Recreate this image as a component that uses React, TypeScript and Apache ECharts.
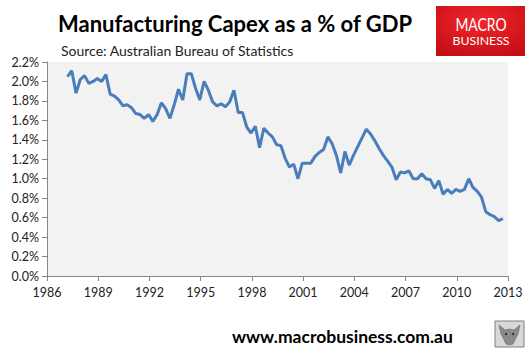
import React, { useEffect, useRef } from "react";
import * as echarts from "echarts";

// Quarterly series start (decimal year) and step
const firstQuarter = 1987.2;
const quarterStep = 0.25;

// Manufacturing capex as % of GDP, quarterly
const capexPct: number[] = [
  2.05, 2.11, 1.88, 2.02, 2.06, 1.98, 2.0, 2.03, 2.0, 2.07,
  1.87, 1.85, 1.81, 1.75, 1.76, 1.73, 1.67, 1.66, 1.62, 1.66,
  1.59, 1.66, 1.78, 1.72, 1.62, 1.76, 1.92, 1.81, 2.08, 2.08,
  1.93, 1.81, 2.0, 1.91, 1.79, 1.75, 1.77, 1.74, 1.79, 1.91,
  1.68, 1.68, 1.53, 1.47, 1.54, 1.32, 1.52, 1.47, 1.43, 1.35,
  1.34, 1.21, 1.12, 1.15, 1.0, 1.16, 1.16, 1.16, 1.23, 1.27,
  1.3, 1.43, 1.36, 1.24, 1.06, 1.28, 1.14, 1.24, 1.33, 1.42,
  1.51, 1.46, 1.39, 1.31, 1.24, 1.18, 1.12, 0.99, 1.07, 1.06,
  1.08, 1.0, 1.0, 1.05, 1.0, 0.99, 0.9, 0.98, 0.84, 0.89,
  0.85, 0.89, 0.87, 0.89, 1.0, 0.91, 0.87, 0.81, 0.66, 0.63,
  0.61, 0.57, 0.59,
];

const xTicks = { min: 1986, max: 2013, interval: 3 };
const yTicks = { min: 0, max: 2.2, interval: 0.2 };

const titleText = "Manufacturing Capex as a % of GDP";
const subtitleText = "Source: Australian Bureau of Statistics";
const footerText = "www.macrobusiness.com.au";

export default function App() {
  const ref = useRef<HTMLDivElement>(null);
  useEffect(() => {
    if (!ref.current) return;
    const chart = echarts.init(ref.current, null, { renderer: "svg" });
    const data = capexPct.map((v, i) => [firstQuarter + i * quarterStep, v]);
    const labelFont = "Lato";
    chart.setOption({
      animation: false,
      backgroundColor: "#ffffff",
      grid: {
        left: 47,
        right: 22,
        top: 62,
        bottom: 79,
        show: true,
        backgroundColor: "#f2f2f2",
        borderWidth: 0,
      },
      xAxis: {
        type: "value",
        min: xTicks.min,
        max: xTicks.max,
        interval: xTicks.interval,
        axisLine: { show: true, lineStyle: { color: "#868686", width: 1 } },
        axisTick: { show: true, length: 5, lineStyle: { color: "#868686" } },
        splitLine: { show: false },
        axisLabel: {
          margin: 10,
          color: "#222",
          fontFamily: labelFont,
          fontSize: 12.5,
          formatter: (v: number) => String(v),
        },
      },
      yAxis: {
        type: "value",
        min: yTicks.min,
        max: yTicks.max,
        interval: yTicks.interval,
        axisLine: { show: true, lineStyle: { color: "#868686", width: 1 } },
        axisTick: { show: true, length: 5, lineStyle: { color: "#868686" } },
        splitLine: { show: false },
        axisLabel: {
          margin: 8,
          color: "#222",
          fontFamily: labelFont,
          fontSize: 12.5,
          formatter: (v: number) => v.toFixed(1) + "%",
        },
      },
      series: [
        {
          type: "line",
          data,
          showSymbol: false,
          symbol: "none",
          lineStyle: { color: "#4a7ebb", width: 3 },
        },
      ],
      graphic: [
        {
          type: "text",
          left: 58,
          top: 12,
          style: {
            text: titleText,
            font: "bold 22px Lato",
            fill: "#000",
          },
        },
        {
          type: "text",
          left: 61,
          top: 43,
          style: {
            text: subtitleText,
            font: "14px Lato",
            fill: "#222",
          },
        },
        {
          type: "rect",
          shape: { x: 436, y: 6, width: 89, height: 50 },
          style: {
            fill: new echarts.graphic.RadialGradient(0.5, 0.3, 0.75, [
              { offset: 0, color: "#f2262b" },
              { offset: 1, color: "#c50f16" },
            ]),
          },
        },
        {
          type: "text",
          x: 481,
          y: 24,
          scaleX: 0.82,
          style: {
            text: "MACRO",
            font: "17px Lato",
            fill: "#ffffff",
            align: "center",
            verticalAlign: "middle",
          },
        },
        {
          type: "text",
          x: 481,
          y: 40,
          scaleX: 1.12,
          style: {
            text: "BUSINESS",
            font: "11px Lato",
            fill: "#ffffff",
            align: "center",
            verticalAlign: "middle",
          },
        },
        {
          type: "text",
          left: 232,
          top: 327,
          style: {
            text: footerText,
            font: "bold 17.5px Lato",
            fill: "#000",
          },
        },
        {
          type: "rect",
          shape: { x: 495, y: 321, width: 29, height: 26 },
          style: { fill: "#d8d8d8", stroke: "#7f7f7f", lineWidth: 1 },
        },
        {
          type: "polygon",
          shape: {
            points: [
              [499, 325], [505, 330], [509.5, 329], [514, 330], [520, 325],
              [518, 334], [513, 344], [509.5, 345], [506, 344], [501, 334],
            ],
          },
          style: { fill: "#8a8a8a", stroke: "#5a5a5a", lineWidth: 0.5 },
        },
        {
          type: "circle",
          shape: { cx: 506, cy: 334, r: 1 },
          style: { fill: "#222" },
        },
        {
          type: "circle",
          shape: { cx: 513, cy: 334, r: 1 },
          style: { fill: "#222" },
        },
      ],
    });
    return () => chart.dispose();
  }, []);
  return (
    <div
      ref={ref}
      style={{ position: "fixed", left: 0, top: 0, width: 530, height: 355 }}
    />
  );
}
